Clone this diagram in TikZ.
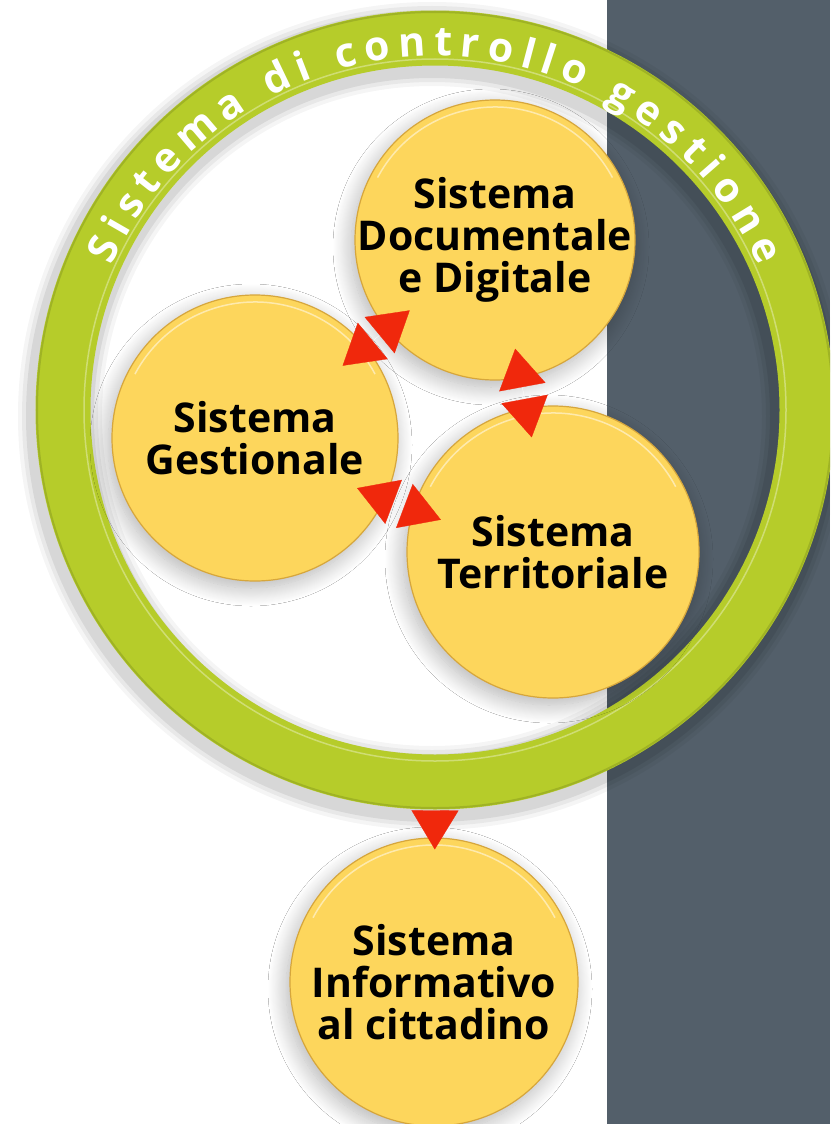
\documentclass[tikz,border=0pt]{standalone}
\usepackage{fontspec}
\setsansfont{Open Sans}
\usetikzlibrary{arrows.meta, calc, decorations.text, shadows.blur}
\definecolor{panelgray}{RGB}{83,95,106}
\definecolor{ringgreen}{RGB}{182,204,42}
\definecolor{sysyellow}{RGB}{253,214,92}
\definecolor{sysrim}{RGB}{214,166,60}
\definecolor{tipred}{RGB}{240,40,12}

\begin{document}
\begin{tikzpicture}[x=1pt, y=-1pt,
texts/.style = {text=black, font=\sffamily\bfseries\fontsize{41}{42}\selectfont, align=center},
sysnode/.style = {texts, circle, inner sep=-20pt, fill=sysyellow, draw=sysrim, line width=1.2pt,
	blur shadow={shadow xshift=-4pt, shadow yshift=-7pt, shadow blur radius=18pt, shadow blur steps=20, shadow opacity=30}},
ringnode/.style = {circle, inner sep=0pt, draw=ringgreen, line width=55pt},
linkline/.style = {white, line width=0.3pt, >={Triangle[length=39pt, width=47pt, color=tipred]}, <->,
	shorten <=-30pt, shorten >=-30pt},
dropline/.style = {white, line width=0.3pt, -{Triangle[length=39pt, width=47pt, color=tipred]}, shorten >=-12pt}
]
\useasboundingbox (0,0) rectangle (830,1124);
\clip (0,0) rectangle (830,1124);
\fill[white] (0,0) rectangle (607,1124);
\fill[panelgray] (607,0) rectangle (830,1124);

\coordinate (hub) at (435,410);
\foreach \w/\o in {84/0.04, 76/0.05, 68/0.07}
	\draw[black, opacity=\o, line width=\w pt] ($(hub)+(-3,6)$) circle[radius=372pt];
\node[ringnode, minimum size=744pt] (ring) at (hub) {};
\draw[white, opacity=0.35, line width=1.5pt] (hub) circle[radius=351pt];
\draw[black, opacity=0.12, line width=2pt] (hub) circle[radius=398pt];
\path[decorate, decoration={text along path, text align=fit to path, text color=white,
	text={|\sffamily\bfseries\fontsize{41}{41}\selectfont|Sistema di controllo gestione}}]
	(hub) ++(156:354pt) arc[start angle=156, end angle=24, radius=354pt];

\node[sysnode, minimum size=280pt] (doc) at (495,240) {Sistema\\Documentale\\e Digitale};
\node[sysnode, minimum size=286pt] (gest) at (255,438) {Sistema\\Gestionale};
\node[sysnode, minimum size=292pt] (terr) at (553,552) {Sistema\\Territoriale};
\node[sysnode, minimum size=288pt] (info) at (434,982) {Sistema\\Informativo\\al cittadino};
\foreach \n/\r in {doc/133pt, gest/136pt, terr/139pt, info/137pt}
	\draw[white, opacity=0.5, line width=1.5pt] (\n.center) ++(152:\r) arc[start angle=152, end angle=28, radius=\r];

\draw[linkline] (gest) -- (doc);
\draw[linkline] (doc) -- (terr);
\draw[linkline] (gest.-25) -- (terr.163);
\draw[dropline] (ring.south) -- (info);
\end{tikzpicture}
\end{document}
